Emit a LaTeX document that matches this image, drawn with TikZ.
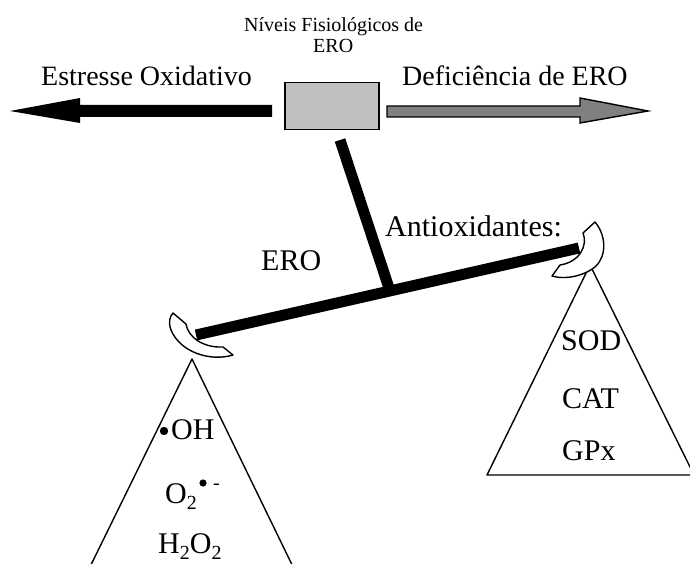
\documentclass[tikz,border=0pt]{standalone}
\usepackage{fontspec}
\setmainfont{Liberation Serif}
\begin{document}
\begin{tikzpicture}[x=1pt,y=-1pt,
  lbl/.style={anchor=base west,inner sep=0pt,font=\fontsize{28}{30}\selectfont},
  lblb/.style={anchor=base west,inner sep=0pt,font=\fontsize{30}{32}\selectfont},
  ttl/.style={anchor=base west,inner sep=0pt,font=\fontsize{20}{22}\selectfont},
  barline/.style={line width=11pt,line cap=butt},
  thin/.style={line width=1.4pt,line join=round},
  pan/.style={thin,fill=white,draw=black}]
\useasboundingbox (0,0) rectangle (690,564);
\clip (0,0) rectangle (690,564);
\fill[white] (0,0) rectangle (690,564);
% title
\node[ttl] (t1) at (244,32) {Níveis Fisiológicos de};
\node[ttl] (t2) at (313,53) {ERO};
% side labels
\node[lbl] (so) at (41,86) {Estresse Oxidativo};
\node[lbl] (de) at (402,86) {Deficiência de ERO};
% box
\node[draw=black,line width=1.5pt,fill=black!25,minimum width=94pt,minimum height=47pt,inner sep=0pt,anchor=north west] (box) at (284,82) {};
% arrows
\fill[black] (10,111) -- (80,98) -- (80,105) -- (272,105) -- (272,117) -- (80,117) -- (80,123) -- cycle;
\filldraw[fill=black!50,draw=black,line width=1.4pt,line join=miter] (387,106) -- (580,106) -- (580,98) -- (648,111) -- (580,123) -- (580,117) -- (387,117) -- cycle;
% balance
\coordinate (bt) at (340,140);
\coordinate (bb) at (389,288);
\coordinate (bl) at (196,335);
\coordinate (br) at (579,248);
\draw[barline] (bt) -- (bb);
\draw[barline] (bl) -- (br);
% triangles
\coordinate (la) at (192,359);
\coordinate (ra) at (590,265);
\draw[thin] (86,575) -- (la) -- (297,575);
\draw[thin] (ra) -- (487,475) -- (694,475) -- cycle;
% pans
\draw[pan] (173,313) -- (186,324) .. controls (188,337) and (203,348) .. (223,347) -- (233,355)
  .. controls (210,362) and (180,352) .. (171,330) .. controls (168,322) and (170,316) .. (173,313) -- cycle;
\draw[pan] (595,222) .. controls (606,235) and (607,255) .. (596,266) .. controls (585,276) and (565,280) .. (552,276)
  -- (560,265) .. controls (580,262) and (588,245) .. (583,233) -- cycle;
% labels
\node[lblb] (anti) at (385,236) {Antioxidantes:};
\node[lblb] (ero) at (261,270) {ERO};
\node[lblb] (sod) at (561,350) {SOD};
\node[lblb] (cat) at (562,408) {CAT};
\node[lblb] (gpx) at (562,460) {GPx};
\fill (164,431) circle (4.2pt);
\node[lblb] (oh) at (171,439) {OH};
\node[lblb] (o2) at (165,503) {O\raisebox{-0.22em}{\fontsize{20}{20}\selectfont 2}};
\fill (203,483) circle (3.6pt);
\node[anchor=base west,inner sep=0pt,font=\fontsize{20}{20}\selectfont] (o2m) at (213,489) {-};
\node[lblb] (h2o2) at (158,553) {H\raisebox{-0.2em}{\fontsize{20}{20}\selectfont 2}O\raisebox{-0.2em}{\fontsize{20}{20}\selectfont 2}};
\end{tikzpicture}
\end{document}
